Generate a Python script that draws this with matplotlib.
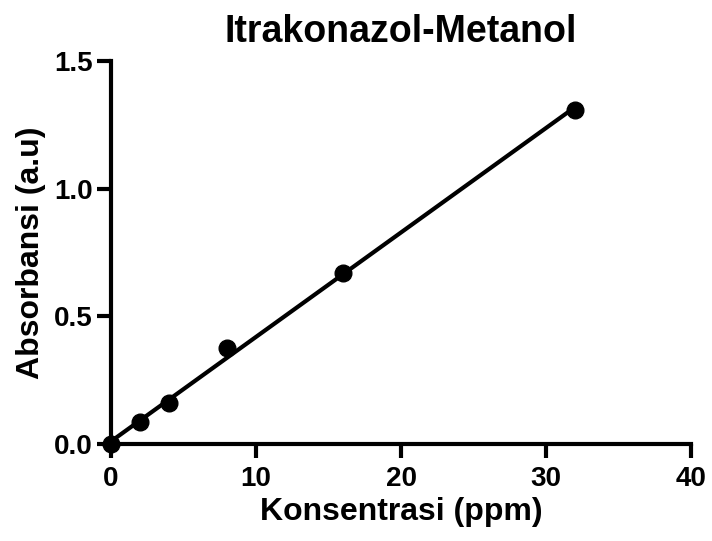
import numpy as np
import matplotlib.pyplot as plt

plt.rcParams['font.family'] = ['Liberation Sans', 'DejaVu Sans']
plt.rcParams['font.weight'] = 'bold'

konsentrasi = [0, 2, 4, 8, 16, 32]
absorbansi = [0.0, 0.086, 0.16, 0.375, 0.672, 1.31]

fig = plt.figure(figsize=(7.12, 5.41), dpi=100)
ax = fig.add_axes([0.156, 0.179, 0.8146, 0.708])

# linear regression line
m, c = np.polyfit(konsentrasi, absorbansi, 1)
xs = np.array([0, 32])
ax.plot(xs, m * xs + c, color='black', lw=3, zorder=2)
ax.plot(konsentrasi, absorbansi, 'o', color='black', ms=12, zorder=3, clip_on=False)

ax.set_xlim(0, 40)
ax.set_ylim(0, 1.5)
ax.set_xticks([0, 10, 20, 30, 40])
ax.set_yticks([0.0, 0.5, 1.0, 1.5])
ax.set_yticklabels(['0.0', '0.5', '1.0', '1.5'])

for s in ['top', 'right']:
    ax.spines[s].set_visible(False)
for s in ['left', 'bottom']:
    ax.spines[s].set_linewidth(3)
ax.tick_params(direction='out', length=10, width=3, labelsize=20, pad=3)
ax.tick_params(axis='x', pad=6)
for lab in ax.get_xticklabels() + ax.get_yticklabels():
    lab.set_fontweight('bold')

ax.set_title('Itrakonazol-Metanol', fontsize=27, fontweight='bold', pad=14)
ax.set_xlabel('Konsentrasi (ppm)', fontsize=23, fontweight='bold', labelpad=3)
ax.set_ylabel('Absorbansi (a.u)', fontsize=23, fontweight='bold', labelpad=6)

fig.savefig('out.png', dpi=100)
